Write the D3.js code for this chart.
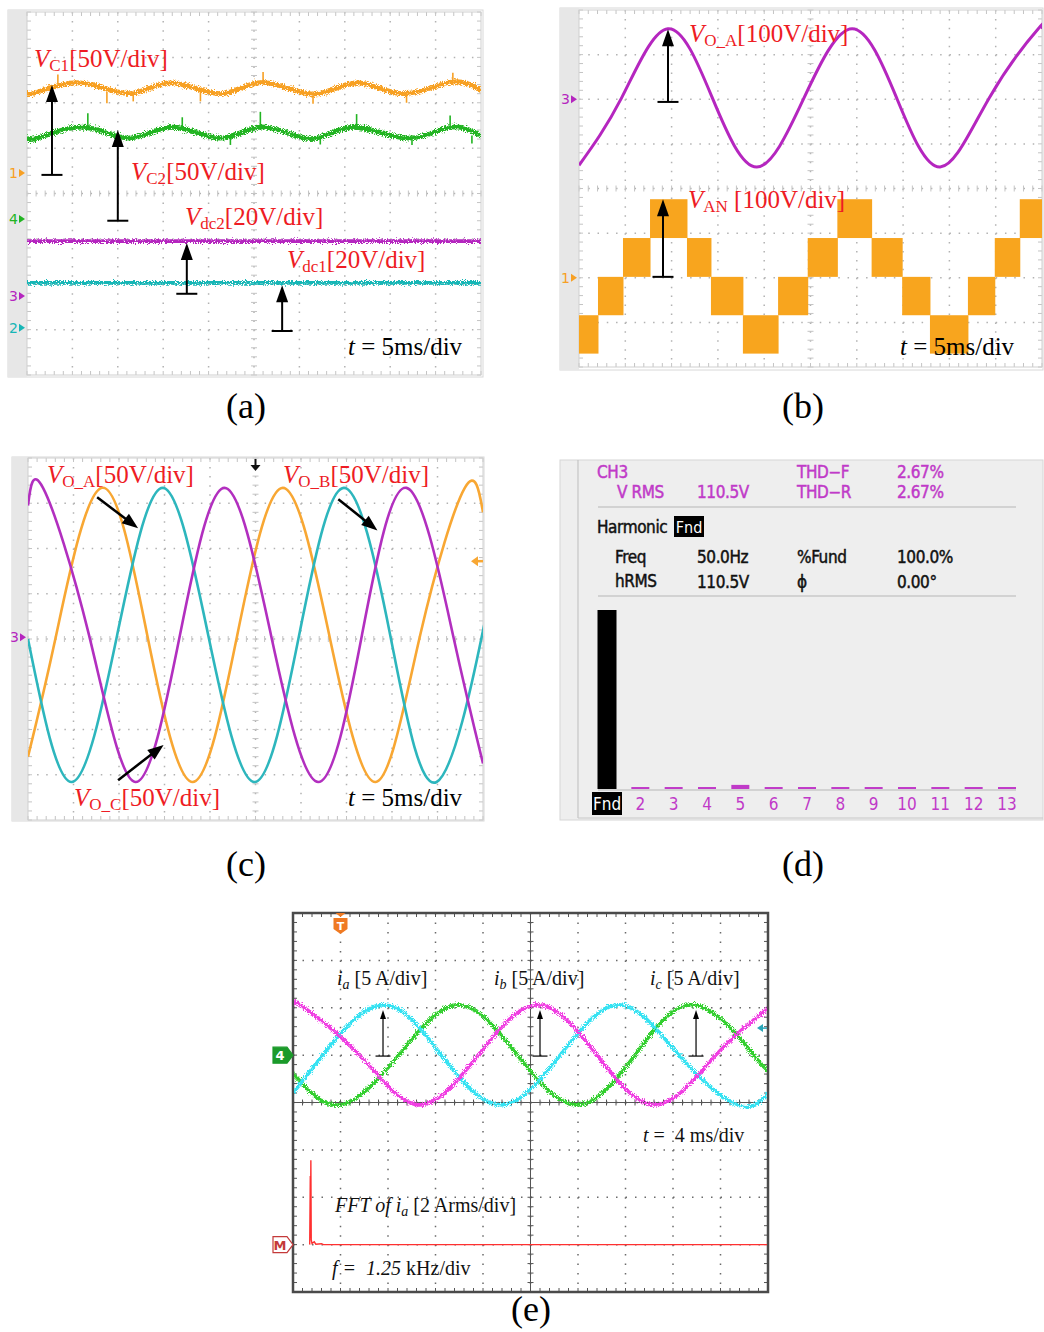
<!DOCTYPE html>
<html>
<head>
<meta charset="utf-8">
<script src="https://cdn.jsdelivr.net/npm/d3@7"></script>
<style>
  body { margin: 0; background: #fff; }
  svg text { white-space: pre; }
</style>
</head>
<body>
<svg id="fig" width="1044" height="1332"></svg>
<script>
// ---------- data (time in ms, amplitude in screen divisions) ----------

// (a) capacitor and dc-link voltages
const vC1 = [[0,2.27],[0.8,2.21],[5.8,2.44],[11.3,2.20],[15.8,2.44],[21.3,2.20],[26.0,2.45],[31.5,2.19],[36.3,2.44],[41.4,2.20],[46.6,2.45],[50,2.28]];
const vC2 = [[0,1.26],[1.1,1.22],[6.2,1.46],[11.3,1.22],[16.1,1.46],[21.3,1.22],[26.0,1.47],[31.2,1.21],[35.9,1.46],[41.9,1.22],[46.6,1.46],[50,1.27]];
const vdc2 = [[0,-1.05],[50,-1.05]];
const vdc1 = [[0,-1.97],[50,-1.97]];
const vC1Spikes = [[3.4,2.4,2.62],[8.8,2.25,1.99],[11.7,2.25,2.03],[19.1,2.25,2.03],[26.0,2.4,2.68],[31.5,2.25,1.98],[41.8,2.25,2.0],[46.9,2.4,2.66]];
const vC2Spikes = [[6.7,1.4,1.77],[17.1,1.4,1.68],[22.4,1.28,1.07],[25.7,1.4,1.8],[32.3,1.28,1.08],[36.3,1.4,1.75],[42.4,1.28,1.07],[46.6,1.4,1.72],[49.0,1.28,1.1]];
const aArrows = [[2.75,0.41,2.39],[10.0,-0.6,1.4],[17.6,-2.21,-1.09],[28.1,-3.03,-2.02]];
const aMarkers = [['1',0.45],['4',-0.56],['3',-2.26],['2',-2.96]];

// (b) output voltage and multilevel phase voltage
const voA = [[0,0.52],[4.6,2.03],[9.6,3.58],[14.4,2.03],[19.2,0.48],[24.3,2.03],[29.5,3.58],[34.3,2.03],[39.0,0.48],[44.3,2.03],[49.6,3.58],[50,3.57]];
const vanLevels = [-3.70,-2.84,-1.98,-1.11,-0.24];          // level -2 .. +2
const vanSteps = [[0,2.05,-2],[2.05,4.75,-1],[4.75,7.67,0],[7.67,11.66,1],[11.66,14.25,0],[14.25,17.7,-1],
                  [17.7,21.5,-2],[21.5,24.7,-1],[24.7,27.9,0],[27.9,31.6,1],[31.6,34.9,0],[34.9,37.9,-1],
                  [37.9,42.0,-2],[42.0,44.9,-1],[44.9,47.6,0],[47.6,50,1]];
const bArrows = [[9.61,1.94,3.57],[9.07,-1.98,-0.24]];
const bMarkers = [['3',2.0],['1',-2.0]];

// (c) three-phase output voltages
const voAc = [[0,2.95],[1.65,3.34],[6.7,0.09],[11.8,-3.16],[16.7,0.09],[21.6,3.34],[26.7,0.09],[31.9,-3.16],[36.7,0.09],[41.6,3.34],[46.7,0.09],[50,-2.75]];
const voBc = [[0,-2.6],[3.1,0.09],[8.1,3.34],[13.1,0.09],[18.1,-3.16],[23.0,0.09],[28.0,3.34],[33.1,0.09],[38.2,-3.16],[43.1,0.09],[48.0,3.34],[50,2.8]];
const voCc = [[0,0.0],[4.8,-3.16],[9.8,0.09],[14.8,3.34],[19.8,0.09],[24.9,-3.16],[29.8,0.09],[34.7,3.34],[39.8,0.09],[44.9,-3.16],[49.9,0.09],[50,0.15]];
const cArrows = [[7.6,3.13,12.1,2.45],[34.1,3.09,38.4,2.40],[9.9,-3.12,14.9,-2.34]];

// (d) harmonic spectrum of CH3
const harmonicOrder = ['Fnd','2','3','4','5','6','7','8','9','10','11','12','13'];
const harmonicPct = [100,1.1,1.1,1.1,2.3,1.1,1.1,1.1,1.1,1.1,1.1,1.1,1.1];
const dRow1 = ['CH3','','THD−F','2.67%'];
const dRow2 = ['V RMS','110.5V','THD−R','2.67%'];
const dRow3 = ['Freq','50.0Hz','%Fund','100.0%'];
const dRow4 = ['hRMS','110.5V','ɸ','0.00°'];

// (e) load currents and FFT of ia (kHz, Arms)
const ia = [[0,2.04],[0.6,2.06],[5.6,1.0],[10.6,-0.05],[15.6,1.0],[20.6,2.06],[25.6,1.0],[30.6,-0.05],[35.6,1.0],[40,1.98]];
const ib = [[0,0.2],[2.5,1.0],[7.5,2.06],[12.5,1.0],[17.5,-0.05],[22.5,1.0],[27.5,2.06],[32.5,1.0],[37.4,-0.05],[40,0.2]];
const ic = [[0,0.62],[4.0,-0.05],[8.9,1.0],[13.9,2.06],[18.9,1.0],[23.9,-0.05],[28.8,1.0],[33.8,2.06],[38.8,1.0],[40,0.7]];
const fftIa = [[0.44,0],[0.455,2.9],[0.46,0.3],[0.47,3.56],[0.48,0.2],[0.5,0.05],[0.56,0.12],[0.6,0.02],[0.75,0.04],[0.8,0],[12.5,0]];
const eArrows = [[7.58,0.98,1.95],[20.8,0.98,1.95],[33.94,0.98,1.95]];

// ---------- styles ----------
const SERIF = "'Liberation Serif','Times New Roman',serif";
const SCOPE = "'DejaVu Sans Condensed','DejaVu Sans',sans-serif";
const C = {
  orange: '#f7a024', green: '#22b422', magenta: '#b526bf', cyan: '#17b6b6', red: '#ee1c24',
  stair: '#f8a51e', cOrange: '#f8a733', cMagenta: '#b22fbf', cCyan: '#2db6bd',
  eMag: '#f03ee2', eCyan: '#36e2f2', eGreen: '#33cf2f', fft: '#ff3030', dMag: '#c03ac8'
};

const svg = d3.select('#fig');
const defs = svg.append('defs');
const jit = defs.append('filter').attr('id', 'jit').attr('filterUnits', 'userSpaceOnUse')
  .attr('x', 0).attr('y', 0).attr('width', 1044).attr('height', 1332);
jit.append('feTurbulence').attr('type', 'fractalNoise').attr('baseFrequency', '0.9')
  .attr('numOctaves', 2).attr('seed', 4).attr('result', 'n');
jit.append('feDisplacementMap').attr('in', 'SourceGraphic').attr('in2', 'n').attr('scale', 7)
  .attr('xChannelSelector', 'R').attr('yChannelSelector', 'G');

function clip(id, x0, x1, y0, y1) {
  defs.append('clipPath').attr('id', id).append('rect')
    .attr('x', x0).attr('y', y0).attr('width', x1 - x0).attr('height', y1 - y0);
  return `url(#${id})`;
}

// scope graticule: 10 x 8 divisions, dots every 1/5 div
function graticule(g, x0, x1, y0, y1, o) {
  const gx = d3.scaleLinear([0, 10], [x0, x1]);
  const gy = d3.scaleLinear([0, 8], [y0, y1]);
  const sx = (x1 - x0) / 50, sy = (y1 - y0) / 40;
  g.selectAll(null).data(d3.range(1, 10)).join('line')
    .attr('x1', d => gx(d)).attr('x2', d => gx(d)).attr('y1', y0).attr('y2', y1)
    .attr('stroke', o.dot).attr('stroke-width', 1.5).attr('stroke-dasharray', `1.5 ${sy - 1.5}`);
  g.selectAll(null).data(d3.range(1, 8)).join('line')
    .attr('y1', d => gy(d)).attr('y2', d => gy(d)).attr('x1', x0).attr('x2', x1)
    .attr('stroke', o.dot).attr('stroke-width', 1.5).attr('stroke-dasharray', `1.5 ${sx - 1.5}`);
  const xc = gx(5), yc = gy(4);
  if (o.solidCenter) {
    g.append('line').attr('x1', xc).attr('x2', xc).attr('y1', y0).attr('y2', y1).attr('stroke', o.tick).attr('stroke-width', 1);
    g.append('line').attr('x1', x0).attr('x2', x1).attr('y1', yc).attr('y2', yc).attr('stroke', o.tick).attr('stroke-width', 1);
  }
  const tx = d3.range(0, 51).map(i => gx(i / 5)), ty = d3.range(0, 41).map(i => gy(i / 5));
  const t = o.tl;
  const ticks = [];
  tx.forEach(x => { ticks.push([x, yc - t, x, yc + t], [x, y0, x, y0 + t + 1], [x, y1 - t - 1, x, y1]); });
  ty.forEach(y => { ticks.push([xc - t, y, xc + t, y], [x0, y, x0 + t + 1, y], [x1 - t - 1, y, x1, y]); });
  g.selectAll(null).data(ticks).join('line')
    .attr('x1', d => d[0]).attr('y1', d => d[1]).attr('x2', d => d[2]).attr('y2', d => d[3])
    .attr('stroke', o.tick).attr('stroke-width', 1);
  g.append('rect').attr('x', x0).attr('y', y0).attr('width', x1 - x0).attr('height', y1 - y0)
    .attr('fill', 'none').attr('stroke', o.border).attr('stroke-width', o.bw);
}

function rich(g, x, y, parts, o) {
  const t = g.append('text').attr('x', x).attr('y', y).attr('font-family', SERIF)
    .attr('font-size', o.size).attr('fill', o.color || '#000');
  if (o.anchor) t.attr('text-anchor', o.anchor);
  const dy = o.dy || o.size * 0.17;
  let down = false;
  parts.forEach(([s, st]) => {
    const sp = t.append('tspan').text(s);
    if (st === 'i' || st === 'si') sp.attr('font-style', 'italic');
    if (st === 's' || st === 'si') {
      sp.attr('font-size', o.size * (o.subScale || 0.68));
      if (!down) { sp.attr('dy', dy); down = true; }
    } else if (down) { sp.attr('dy', -dy); down = false; }
  });
}

function arrow(g, p0, p1, o) {
  const dx = p1[0] - p0[0], dy = p1[1] - p0[1], L = Math.hypot(dx, dy);
  const ux = dx / L, uy = dy / L, nx = -uy, ny = ux;
  const bx = p1[0] - ux * o.hl, by = p1[1] - uy * o.hl;
  g.append('line').attr('x1', p0[0]).attr('y1', p0[1]).attr('x2', bx + ux * 2).attr('y2', by + uy * 2)
    .attr('stroke', '#000').attr('stroke-width', o.w);
  g.append('path').attr('fill', '#000')
    .attr('d', `M${p1[0]},${p1[1]}L${bx + nx * o.hw / 2},${by + ny * o.hw / 2}L${bx - nx * o.hw / 2},${by - ny * o.hw / 2}Z`);
  if (o.bar) {
    g.append('line').attr('x1', p0[0] - nx * o.bar / 2).attr('y1', p0[1] - ny * o.bar / 2)
      .attr('x2', p0[0] + nx * o.bar / 2).attr('y2', p0[1] + ny * o.bar / 2)
      .attr('stroke', '#000').attr('stroke-width', o.w);
  }
}

function chMarker(g, xr, y, label, color) {
  g.append('text').attr('x', xr - 9).attr('y', y + 5).attr('text-anchor', 'end')
    .attr('font-family', "'DejaVu Sans',sans-serif").attr('font-size', 14).attr('fill', color).text(label);
  g.append('path').attr('fill', color).attr('d', `M${xr - 8},${y - 4}L${xr - 2},${y}L${xr - 8},${y + 4}Z`);
}

function caption(txt, x, y) {
  svg.append('text').attr('x', x).attr('y', y).attr('text-anchor', 'middle')
    .attr('font-family', SERIF).attr('font-size', 36).text(txt);
}

const lightGrid = { dot: '#b2b2b2', tick: '#c4c4c4', border: '#cfcfcf', bw: 1, tl: 3 };
const darkGrid = { dot: '#6a6a6a', tick: '#555', border: '#4a4a4a', bw: 2.5, tl: 3, solidCenter: true };

// ================= (a) =================
const xA = d3.scaleLinear([0, 50], [27, 481]);
const yA = d3.scaleLinear([-4, 4], [375, 12]);
const gA = svg.append('g');
gA.append('rect').attr('x', 8).attr('y', 10).attr('width', 475).attr('height', 367).attr('fill', '#fff').attr('stroke', '#d8d8d8');
gA.append('rect').attr('x', 8).attr('y', 10).attr('width', 19).attr('height', 367).attr('fill', '#e7e7e7');
graticule(gA, 27, 481, 12, 375, lightGrid);
aMarkers.forEach(([l, v], i) => chMarker(gA, 27, yA(v), l, [C.orange, C.green, C.magenta, C.cyan][i]));
const lineA = d3.line().x(d => xA(d[0])).y(d => yA(d[1])).curve(d3.curveNatural);
const trA = gA.append('g').attr('clip-path', clip('clipA', 27, 481, 12, 375));
[[vC1, C.orange, 4.8], [vC2, C.green, 4.8], [vdc2, C.magenta, 3.6], [vdc1, C.cyan, 3.6]].forEach(([d, c, w]) => {
  trA.append('path').datum(d).attr('d', lineA).attr('fill', 'none').attr('stroke', c)
    .attr('stroke-width', w).attr('filter', 'url(#jit)');
});
[[vC1Spikes, C.orange], [vC2Spikes, C.green]].forEach(([d, c]) => {
  trA.selectAll(null).data(d).join('line')
    .attr('x1', s => xA(s[0])).attr('x2', s => xA(s[0])).attr('y1', s => yA(s[1])).attr('y2', s => yA(s[2]))
    .attr('stroke', c).attr('stroke-width', 1.6);
});
aArrows.forEach(a => arrow(gA, [xA(a[0]), yA(a[1])], [xA(a[0]), yA(a[2])], { w: 2, hl: 17, hw: 12, bar: 21 }));
const redA = { size: 25, color: C.red, dy: 4 };
rich(gA, 34, 67, [['V', 'i'], ['C1', 's'], ['[50V/div]', 'r']], redA);
rich(gA, 131, 180, [['V', 'i'], ['C2', 's'], ['[50V/div]', 'r']], redA);
rich(gA, 185, 225, [['V', 'i'], ['dc2', 's'], ['[20V/div]', 'r']], redA);
rich(gA, 287, 268, [['V', 'i'], ['dc1', 's'], ['[20V/div]', 'r']], redA);
rich(gA, 348, 355, [['t', 'i'], [' = 5ms/div', 'r']], { size: 25 });
caption('(a)', 246, 418);

// ================= (b) =================
const xB = d3.scaleLinear([0, 50], [579, 1042]);
const yB = d3.scaleLinear([-4, 4], [367, 10]);
const gB = svg.append('g');
gB.append('rect').attr('x', 560).attr('y', 8).attr('width', 483).attr('height', 362).attr('fill', '#fff').attr('stroke', '#d8d8d8');
gB.append('rect').attr('x', 560).attr('y', 8).attr('width', 19).attr('height', 362).attr('fill', '#e7e7e7');
graticule(gB, 579, 1042, 10, 367, lightGrid);
bMarkers.forEach(([l, v], i) => chMarker(gB, 579, yB(v), l, [C.magenta, C.orange][i]));
const trB = gB.append('g').attr('clip-path', clip('clipB', 579, 1042, 10, 367));
trB.selectAll(null).data(vanSteps).join('rect')
  .attr('x', d => xB(d[0])).attr('width', d => xB(d[1]) - xB(d[0]) + 0.5)
  .attr('y', d => yB(vanLevels[d[2] + 3])).attr('height', d => yB(vanLevels[d[2] + 2]) - yB(vanLevels[d[2] + 3]))
  .attr('fill', C.stair);
const lineB = d3.line().x(d => xB(d[0])).y(d => yB(d[1])).curve(d3.curveNatural);
trB.append('path').datum(voA).attr('d', lineB).attr('fill', 'none').attr('stroke', C.magenta).attr('stroke-width', 3);
bArrows.forEach(a => arrow(gB, [xB(a[0]), yB(a[1])], [xB(a[0]), yB(a[2])], { w: 2, hl: 17, hw: 12, bar: 21 }));
rich(gB, 689, 42, [['V', 'i'], ['O_A', 's'], ['[100V/div]', 'r']], redA);
rich(gB, 688, 208, [['V', 'i'], ['AN', 's'], [' [100V/div]', 'r']], redA);
rich(gB, 900, 355, [['t', 'i'], [' = 5ms/div', 'r']], { size: 25 });
caption('(b)', 803, 418);

// ================= (c) =================
const xC = d3.scaleLinear([0, 50], [28, 483]);
const yC = d3.scaleLinear([-4, 4], [820, 458]);
const gC = svg.append('g');
gC.append('rect').attr('x', 12).attr('y', 457).attr('width', 472).attr('height', 364).attr('fill', '#fff').attr('stroke', '#d8d8d8');
gC.append('rect').attr('x', 12).attr('y', 457).attr('width', 16).attr('height', 364).attr('fill', '#e7e7e7');
graticule(gC, 28, 483, 458, 820, lightGrid);
chMarker(gC, 28, yC(0.04), '3', C.magenta);
const lineC = d3.line().x(d => xC(d[0])).y(d => yC(d[1])).curve(d3.curveNatural);
const trC = gC.append('g').attr('clip-path', clip('clipC', 28, 483, 458, 820));
[[voBc, C.cOrange], [voCc, C.cCyan], [voAc, C.cMagenta]].forEach(([d, c]) => {
  trC.append('path').datum(d).attr('d', lineC).attr('fill', 'none').attr('stroke', c).attr('stroke-width', 2.6);
});
// trigger and level markers
{
  const tx = xC(25);
  gC.append('line').attr('x1', tx).attr('x2', tx).attr('y1', 459).attr('y2', 466).attr('stroke', '#111').attr('stroke-width', 2);
  gC.append('path').attr('fill', '#111').attr('d', `M${tx - 5},${465}L${tx + 5},${465}L${tx},${471}Z`);
  const ly = yC(1.72);
  gC.append('path').attr('fill', C.cOrange).attr('d', `M471,${ly}L478,${ly - 5}L478,${ly + 5}Z`);
  gC.append('line').attr('x1', 477).attr('x2', 483).attr('y1', ly).attr('y2', ly).attr('stroke', C.cOrange).attr('stroke-width', 2.5);
}
cArrows.forEach(a => arrow(gC, [xC(a[0]), yC(a[1])], [xC(a[2]), yC(a[3])], { w: 2.5, hl: 16, hw: 12 }));
rich(gC, 47, 483, [['V', 'i'], ['O_A', 's'], ['[50V/div]', 'r']], redA);
rich(gC, 283, 483, [['V', 'i'], ['O_B', 's'], ['[50V/div]', 'r']], redA);
rich(gC, 74, 806, [['V', 'i'], ['O_C', 's'], ['[50V/div]', 'r']], redA);
rich(gC, 348, 806, [['t', 'i'], [' = 5ms/div', 'r']], { size: 25 });
caption('(c)', 246, 876);

// ================= (d) =================
const gD = svg.append('g');
gD.append('rect').attr('x', 560).attr('y', 460).attr('width', 483).attr('height', 360).attr('fill', '#eeeeee').attr('stroke', '#d6d6d6');
gD.append('line').attr('x1', 578).attr('x2', 578).attr('y1', 460).attr('y2', 818).attr('stroke', '#bdbdbd');
gD.append('line').attr('x1', 578).attr('x2', 1043).attr('y1', 818).attr('y2', 818).attr('stroke', '#c8c8c8');
const dText = (x, y, s, c) => gD.append('text').attr('x', x).attr('y', y).attr('font-family', SCOPE)
  .attr('font-size', 17).attr('fill', c).attr('stroke', c).attr('stroke-width', 0.45)
  .attr('letter-spacing', -0.4).text(s);
const colX = [697, 797, 897];
dText(597, 478, dRow1[0], C.dMag);
dText(617, 498, dRow2[0], C.dMag);
dRow1.slice(1).forEach((s, i) => dText(colX[i], 478, s, C.dMag));
dRow2.slice(1).forEach((s, i) => dText(colX[i], 498, s, C.dMag));
dText(615, 563, dRow3[0], '#111');
dText(615, 587, dRow4[0], '#111');
dRow3.slice(1).forEach((s, i) => dText(colX[i], 563, s, '#111'));
dRow4.slice(1).forEach((s, i) => dText(colX[i], 588, s, '#111'));
gD.selectAll(null).data([507, 596, 790]).join('line')
  .attr('x1', 598).attr('x2', 1016).attr('y1', d => d).attr('y2', d => d).attr('stroke', '#c9c9c9').attr('stroke-width', 1.5);
dText(597, 533, 'Harmonic', '#111');
gD.append('rect').attr('x', 674).attr('y', 516).attr('width', 30).attr('height', 21).attr('fill', '#000');
gD.append('text').attr('x', 689).attr('y', 533).attr('text-anchor', 'middle').attr('font-family', SCOPE)
  .attr('font-size', 16).attr('fill', '#fff').text('Fnd');
const xD = d3.scalePoint(harmonicOrder, [607, 1007]);
const yD = d3.scaleLinear([0, 100], [789, 610]);
gD.selectAll(null).data(harmonicOrder).join('rect')
  .attr('x', d => xD(d) - (d === 'Fnd' ? 9.5 : 9)).attr('width', d => d === 'Fnd' ? 19 : 18)
  .attr('y', (d, i) => yD(harmonicPct[i])).attr('height', (d, i) => yD(0) - yD(harmonicPct[i]))
  .attr('fill', d => d === 'Fnd' ? '#000' : C.dMag);
gD.append('rect').attr('x', xD('Fnd') - 15).attr('y', 792).attr('width', 30).attr('height', 23).attr('fill', '#000');
gD.selectAll(null).data(harmonicOrder).join('text')
  .attr('x', d => xD(d)).attr('y', 810).attr('text-anchor', 'middle')
  .attr('font-family', SCOPE).attr('font-size', 17)
  .attr('fill', d => d === 'Fnd' ? '#fff' : C.dMag).text(d => d);
caption('(d)', 803, 876);

// ================= (e) =================
const xE = d3.scaleLinear([0, 40], [293, 768]);
const yE = d3.scaleLinear([-4, 4], [1292, 913]);
const fE = d3.scaleLinear([0, 12.5], [293, 768]);
const aE = d3.scaleLinear([0, 8], [yE(-3), yE(1)]);
const gE = svg.append('g');
gE.append('rect').attr('x', 293).attr('y', 913).attr('width', 475).attr('height', 379).attr('fill', '#fff');
graticule(gE, 293, 768, 913, 1292, darkGrid);
const lineE = d3.line().x(d => xE(d[0])).y(d => yE(d[1])).curve(d3.curveNatural);
const trE = gE.append('g').attr('clip-path', clip('clipE', 294, 767, 914, 1291));
[[ic, C.eGreen], [ib, C.eCyan], [ia, C.eMag]].forEach(([d, c]) => {
  trE.append('path').datum(d).attr('d', lineE).attr('fill', 'none').attr('stroke', c)
    .attr('stroke-width', 3.6).attr('filter', 'url(#jit)');
});
trE.append('path').datum(fftIa)
  .attr('d', d3.line().x(d => fE(d[0])).y(d => aE(d[1])))
  .attr('fill', 'none').attr('stroke', C.fft).attr('stroke-width', 1.4);
eArrows.forEach(a => arrow(gE, [xE(a[0]), yE(a[1])], [xE(a[0]), yE(a[2])], { w: 1.2, hl: 9, hw: 6, bar: 15 }));
// channel / trigger markers
{
  const y4 = yE(1.0), yM = yE(-3);
  const tag = (y, fill, stroke, txt, tc) => {
    gE.append('path').attr('d', `M273,${y - 8}L287,${y - 8}L293,${y}L287,${y + 8}L273,${y + 8}Z`)
      .attr('fill', fill).attr('stroke', stroke).attr('stroke-width', 1.2);
    gE.append('text').attr('x', 280).attr('y', y + 5).attr('text-anchor', 'middle')
      .attr('font-family', "'DejaVu Sans',sans-serif").attr('font-weight', 'bold').attr('font-size', 13).attr('fill', tc).text(txt);
  };
  tag(y4, '#1b9a2a', '#1b9a2a', '4', '#fff');
  tag(yM, '#fff', '#c43a3a', 'M', '#c43a3a');
  const tx = xE(4.0);
  gE.append('path').attr('fill', '#f07a22').attr('d', `M${tx - 5},913L${tx + 5},913L${tx},917Z`);
  gE.append('path').attr('fill', '#f07a22')
    .attr('d', `M${tx - 7},918L${tx + 7},918L${tx + 7},929L${tx},934L${tx - 7},929Z`);
  gE.append('text').attr('x', tx).attr('y', 930).attr('text-anchor', 'middle').attr('font-family', "'DejaVu Sans',sans-serif")
    .attr('font-weight', 'bold').attr('font-size', 11).attr('fill', '#fff').text('T');
  const ly = yE(1.57);
  gE.append('path').attr('fill', '#2aa6b8').attr('d', `M757,${ly}L763,${ly - 4}L763,${ly + 4}Z`);
  gE.append('line').attr('x1', 762).attr('x2', 767).attr('y1', ly).attr('y2', ly).attr('stroke', '#2aa6b8').attr('stroke-width', 1.5);
}
const blkE = { size: 20, color: '#111', dy: 4, subScale: 0.7 };
rich(gE, 337, 985, [['i', 'i'], ['a', 'si'], [' [5 A/div]', 'r']], blkE);
rich(gE, 494, 985, [['i', 'i'], ['b', 'si'], [' [5 A/div]', 'r']], blkE);
rich(gE, 650, 985, [['i', 'i'], ['c', 'si'], [' [5 A/div]', 'r']], blkE);
rich(gE, 643, 1142, [['t', 'i'], [' =  4 ms/div', 'r']], blkE);
rich(gE, 335, 1212, [['FFT of i', 'i'], ['a', 'si'], [' [2 Arms/div]', 'r']], blkE);
rich(gE, 332, 1275, [['f =  1.25', 'i'], [' kHz/div', 'r']], blkE);
caption('(e)', 531, 1321);
</script>
</body>
</html>
